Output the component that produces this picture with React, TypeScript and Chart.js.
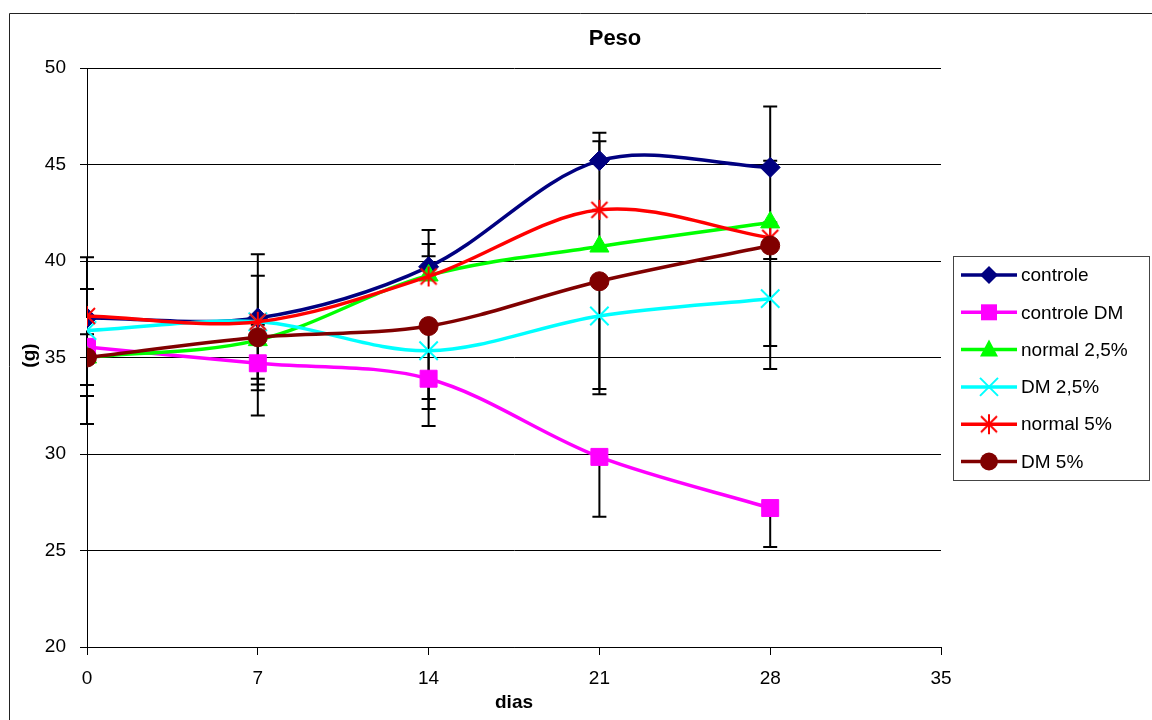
import React, { useEffect, useRef } from "react";
import { Chart, registerables } from "chart.js";

Chart.register(...registerables);

const days = [0, 7, 14, 21, 28];
const xTicks = [0, 7, 14, 21, 28, 35];
const yTicks = [20, 25, 30, 35, 40, 45, 50];

const seriesNames = ["controle", "controle DM", "normal 2,5%", "DM 2,5%", "normal 5%", "DM 5%"];
const seriesColors = ["#000080", "#FF00FF", "#00FF00", "#00FFFF", "#FF0000", "#800000"];

const controle = [37.05, 37.05, 39.7, 45.2, 44.85];
const controleDM = [35.55, 34.7, 33.9, 29.85, 27.2];
const normal25 = [35.0, 35.9, 39.25, 40.75, 42.0];
const dm25 = [36.4, 36.85, 35.35, 37.15, 38.05];
const normal5 = [37.15, 36.85, 39.2, 42.65, 41.2];
const dm5 = [35.0, 36.05, 36.63, 38.95, 40.8];

// error bars (upward / downward lengths)
const controlePlus = [3.15, 3.3, 1.9, 1.45, 3.15];
const controleMinus = [0, 0, 0, 0, 0];
const controleDMPlus = [0, 0, 0, 0, 0];
const controleDMMinus = [2.55, 0.8, 1.57, 3.1, 2.02];
const normal25Plus = [1.2, 0.8, 1.0, 1.9, 3.2];
const normal25Minus = [0, 2.6, 0, 0, 0];
const dm25Plus = [0, 0, 0, 0, 0];
const dm25Minus = [2.83, 3.25, 2.5, 3.78, 2.45];
const normal5Plus = [1.4, 2.38, 1.68, 3.55, 0.8];
const normal5Minus = [0, 0, 0, 0, 1.1];
const dm5Plus = [0, 0, 0, 0, 0];
const dm5Minus = [3.45, 4.05, 5.18, 5.85, 6.4];

const FONT = "'Liberation Sans', Arial, sans-serif";

function makeStar(color: string, size: number) {
  const c = document.createElement("canvas");
  c.width = size;
  c.height = size;
  const g = c.getContext("2d")!;
  g.strokeStyle = color;
  g.lineWidth = 2;
  const m = size / 2;
  const r = size / 2 - 1;
  g.beginPath();
  g.moveTo(m - r * 0.8, m - r * 0.8);
  g.lineTo(m + r * 0.8, m + r * 0.8);
  g.moveTo(m + r * 0.8, m - r * 0.8);
  g.lineTo(m - r * 0.8, m + r * 0.8);
  g.moveTo(m, m - r);
  g.lineTo(m, m + r);
  g.stroke();
  return c;
}

function drawMarker(ctx: CanvasRenderingContext2D, kind: string, x: number, y: number, color: string, star: HTMLCanvasElement) {
  ctx.save();
  ctx.fillStyle = color;
  ctx.strokeStyle = color;
  ctx.beginPath();
  if (kind === "rectRot") {
    const r = 9;
    ctx.moveTo(x, y - r);
    ctx.lineTo(x + r, y);
    ctx.lineTo(x, y + r);
    ctx.lineTo(x - r, y);
    ctx.closePath();
    ctx.fill();
  } else if (kind === "rect") {
    ctx.rect(x - 8, y - 8, 16, 16);
    ctx.fill();
  } else if (kind === "triangle") {
    ctx.moveTo(x, y - 10);
    ctx.lineTo(x + 9, y + 7);
    ctx.lineTo(x - 9, y + 7);
    ctx.closePath();
    ctx.fill();
  } else if (kind === "crossRot") {
    ctx.lineWidth = 2;
    const r = 9;
    ctx.moveTo(x - r, y - r);
    ctx.lineTo(x + r, y + r);
    ctx.moveTo(x + r, y - r);
    ctx.lineTo(x - r, y + r);
    ctx.stroke();
  } else if (kind === "star") {
    ctx.drawImage(star, x - star.width / 2, y - star.height / 2);
  } else {
    ctx.arc(x, y, 9, 0, Math.PI * 2);
    ctx.fill();
  }
  ctx.restore();
}

export default function App() {
  const ref = useRef<HTMLCanvasElement | null>(null);

  useEffect(() => {
    const canvas = ref.current;
    if (!canvas) return;
    const star = makeStar("#FF0000", 22);
    const values = [controle, controleDM, normal25, dm25, normal5, dm5];
    const plus = [controlePlus, controleDMPlus, normal25Plus, dm25Plus, normal5Plus, dm5Plus];
    const minus = [controleMinus, controleDMMinus, normal25Minus, dm25Minus, normal5Minus, dm5Minus];
    const styles = ["rectRot", "rect", "triangle", "crossRot", "star", "circle"];
    const radii = [10, 12, 11, 13, 10, 9.5];

    const datasets = values.map((vals, i) => ({
      label: seriesNames[i],
      data: days.map((d, j) => ({ x: d, y: vals[j] })),
      borderColor: seriesColors[i],
      backgroundColor: seriesColors[i],
      borderWidth: 3.5,
      tension: 0.33,
      pointStyle: i === 4 ? (star as any) : styles[i],
      pointRadius: radii[i],
      pointBorderWidth: i === 3 ? 2 : 1,
      pointBackgroundColor: seriesColors[i],
      pointBorderColor: seriesColors[i],
      order: 6 - i,
    }));

    const decor = {
      id: "decor",
      beforeDraw(chart: any) {
        const ctx = chart.ctx;
        ctx.save();
        ctx.fillStyle = "#fff";
        ctx.fillRect(0, 0, chart.width, chart.height);
        ctx.strokeStyle = "#222";
        ctx.lineWidth = 1;
        ctx.beginPath();
        ctx.moveTo(9.5, chart.height);
        ctx.lineTo(9.5, 13.5);
        ctx.lineTo(chart.width, 13.5);
        ctx.stroke();
        ctx.restore();
      },
      beforeDatasetsDraw(chart: any) {
        const ctx = chart.ctx;
        const ys = chart.scales.y;
        ctx.save();
        ctx.strokeStyle = "#000";
        ctx.lineWidth = 2;
        values.forEach((vals, i) => {
          const meta = chart.getDatasetMeta(i);
          vals.forEach((v, j) => {
            const px = meta.data[j].x;
            const top = ys.getPixelForValue(v + plus[i][j]);
            const bot = ys.getPixelForValue(v - minus[i][j]);
            ctx.beginPath();
            ctx.moveTo(px, top);
            ctx.lineTo(px, bot);
            if (plus[i][j] > 0) {
              ctx.moveTo(px - 7, top);
              ctx.lineTo(px + 7, top);
            }
            if (minus[i][j] > 0) {
              ctx.moveTo(px - 7, bot);
              ctx.lineTo(px + 7, bot);
            }
            ctx.stroke();
          });
        });
        ctx.restore();
      },
      afterDraw(chart: any) {
        const ctx = chart.ctx;
        const area = chart.chartArea;
        ctx.save();
        // title
        ctx.fillStyle = "#000";
        ctx.font = `bold 22px ${FONT}`;
        ctx.textAlign = "center";
        ctx.textBaseline = "middle";
        ctx.fillText("Peso", 615, 39);
        // axis titles
        ctx.font = `bold 19px ${FONT}`;
        ctx.fillText("dias", (area.left + area.right) / 2, 703);
        ctx.save();
        ctx.translate(30, (area.top + area.bottom) / 2 - 2);
        ctx.rotate(-Math.PI / 2);
        ctx.fillText("(g)", 0, 0);
        ctx.restore();
        // legend
        ctx.strokeStyle = "#444";
        ctx.lineWidth = 1;
        ctx.strokeRect(953.5, 256.5, 196, 224);
        ctx.font = `19px ${FONT}`;
        ctx.textAlign = "left";
        seriesNames.forEach((name, i) => {
          const y = 275 + i * 37.3;
          ctx.strokeStyle = seriesColors[i];
          ctx.lineWidth = 3.5;
          ctx.beginPath();
          ctx.moveTo(961, y);
          ctx.lineTo(1017, y);
          ctx.stroke();
          drawMarker(ctx, styles[i], 989, y, seriesColors[i], star);
          ctx.fillStyle = "#000";
          ctx.fillText(name, 1021, y + 1);
        });
        ctx.restore();
      },
    };

    const chart = new Chart(canvas, {
      type: "line",
      data: { datasets: datasets as any },
      options: {
        animation: false,
        responsive: false,
        maintainAspectRatio: false,
        layout: { padding: { left: 0, top: 68, right: 211, bottom: 0 } },
        plugins: {
          legend: { display: false },
          title: { display: false },
          tooltip: { enabled: false },
        },
        scales: {
          x: {
            type: "linear",
            min: 0,
            max: 35,
            afterBuildTicks: (s: any) => {
              s.ticks = xTicks.map((v) => ({ value: v }));
            },
            afterFit: (s: any) => {
              s.height = 73;
            },
            ticks: {
              color: "#000",
              font: { family: FONT, size: 19 },
              padding: 12,
              maxRotation: 0,
            },
            grid: { drawOnChartArea: false, drawTicks: true, tickLength: 8, tickColor: "#000", lineWidth: 1 },
            border: { display: true, color: "#000", width: 1 },
          },
          y: {
            min: 20,
            max: 50,
            afterBuildTicks: (s: any) => {
              s.ticks = yTicks.map((v) => ({ value: v }));
            },
            afterFit: (s: any) => {
              s.width = 87;
            },
            ticks: {
              color: "#000",
              font: { family: FONT, size: 19 },
              padding: 14,
            },
            grid: { color: "#000", lineWidth: 1, tickLength: 7, tickColor: "#000" },
            border: { display: true, color: "#000", width: 1 },
          },
        },
      },
      plugins: [decor],
    });
    return () => chart.destroy();
  }, []);

  return (
    <div style={{ position: "fixed", left: 0, top: 0, width: 1152, height: 720, background: "#fff" }}>
      <canvas ref={ref} width={1152} height={720} style={{ display: "block", width: 1152, height: 720 }} />
    </div>
  );
}
